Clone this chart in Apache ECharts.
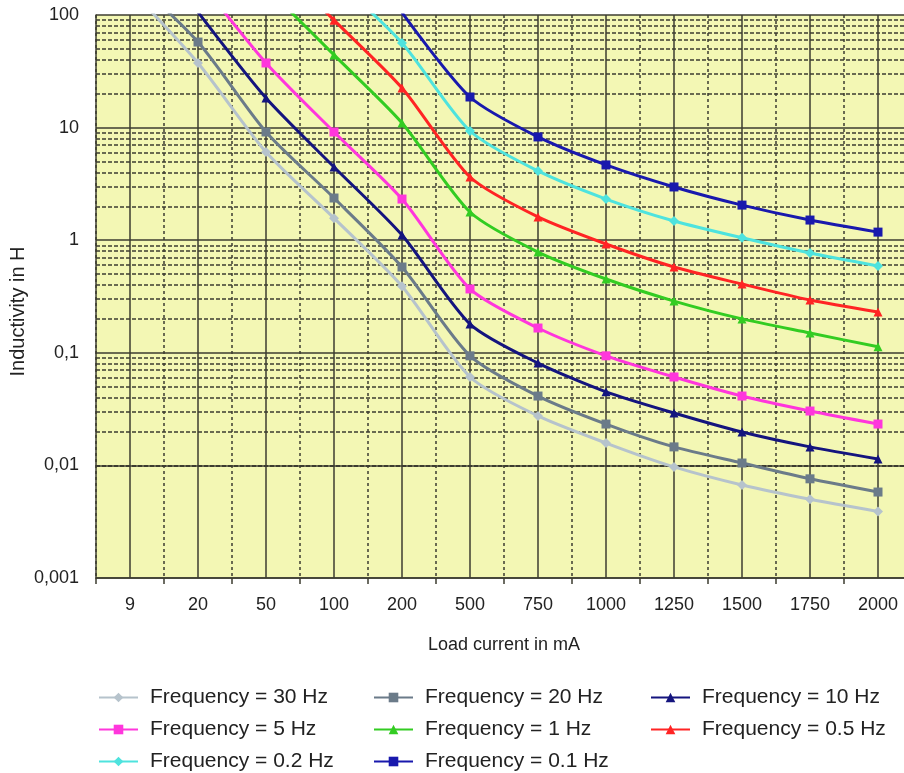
<!DOCTYPE html>
<html>
<head>
<meta charset="utf-8">
<script src="https://cdn.jsdelivr.net/npm/echarts@6/dist/echarts.min.js"></script>
<style>
  html, body { margin: 0; padding: 0; background: #fff; }
  #chart { width: 904px; height: 773px; }
</style>
</head>
<body>
<div id="chart"></div>
<script>
// load current categories (mA)
let categories = ['9', '20', '50', '100', '200', '500', '750', '1000', '1250', '1500', '1750', '2000'];

// inductivity in H (values above 100 only steer the line in from the top)
let f30  = [170, 37.5, 6.07, 1.57, 0.39, 0.061, 0.0275, 0.0158, 0.0097, 0.0067, 0.0050, 0.0039];
let f20  = [220, 57.5, 9.14, 2.37, 0.578, 0.094, 0.0413, 0.0233, 0.0146, 0.0105, 0.0076, 0.0058];
let f10  = [null, 106, 18.3, 4.47, 1.11, 0.18, 0.081, 0.045, 0.0292, 0.0198, 0.0146, 0.0114];
let f5   = [null, 211, 37.5, 9.14, 2.32, 0.369, 0.166, 0.094, 0.061, 0.0413, 0.0304, 0.0233];
let f1   = [null, null, 177, 44.2, 11.0, 1.78, 0.785, 0.452, 0.288, 0.20, 0.15, 0.113];
let f05  = [null, null, 360, 90, 22.5, 3.64, 1.61, 0.925, 0.578, 0.408, 0.294, 0.23];
let f02  = [null, null, null, 213, 56.5, 9.33, 4.12, 2.32, 1.48, 1.05, 0.769, 0.59];
let f01  = [null, null, null, null, 105, 18.7, 8.26, 4.66, 2.97, 2.05, 1.51, 1.18];

let names = ['Frequency = 30 Hz', 'Frequency = 20 Hz', 'Frequency = 10 Hz',
             'Frequency = 5 Hz', 'Frequency = 1 Hz', 'Frequency = 0.5 Hz',
             'Frequency = 0.2 Hz', 'Frequency = 0.1 Hz'];
let values = [f30, f20, f10, f5, f1, f05, f02, f01];
let colors = ['#b6c3cc', '#6b7b89', '#14147e', '#ff36dc', '#33cc22', '#ff2424', '#4ee3de', '#1919ad'];
let symbols = ['diamond', 'rect', 'triangle', 'rect', 'triangle', 'triangle', 'diamond', 'rect'];

// minor gridline values for the log axis (2..9 in every decade)
let minorVals = [];
for (let e = -3; e < 2; e++) {
    for (let m = 2; m <= 9; m++) {
        minorVals.push(Number((m * Math.pow(10, e)).toPrecision(3)));
    }
}

let gridColor = '#3c3c30';
let textColor = '#222';

let chart = echarts.init(document.getElementById('chart'));

let series = [];
for (let i in names) {
    series.push({
        name: names[i],
        type: 'line',
        data: values[i],
        smooth: 0.25,
        symbol: symbols[i],
        symbolSize: symbols[i] === 'diamond' ? 10 : 9,
        lineStyle: { width: 3, color: colors[i] },
        itemStyle: { color: colors[i] },
        z: 5,
        animation: false
    });
}

// gridlines that the axes can't draw themselves
let markData = [];
for (let v of minorVals) {
    markData.push({ yAxis: v, lineStyle: { type: [4, 2], width: 1.5, color: gridColor } });
}
for (let c of categories) {
    markData.push({ xAxis: c, lineStyle: { type: 'solid', width: 1.5, color: gridColor } });
}
series.push({
    type: 'line',
    xAxisIndex: 1,
    yAxisIndex: 1,
    data: categories.map(function () { return null; }),
    silent: true,
    z: 1,
    animation: false,
    markLine: {
        silent: true,
        symbol: 'none',
        label: { show: false },
        animation: false,
        data: markData
    }
});

function legendCol(left, items) {
    return {
        orient: 'vertical',
        left: left,
        top: 687,
        itemGap: 11,
        itemWidth: 39,
        itemHeight: 12,
        padding: 0,
        data: items,
        textStyle: { fontSize: 21, color: textColor, fontFamily: 'Liberation Sans', padding: [0, 0, 0, 7] }
    };
}

let option = {
    textStyle: { fontFamily: 'Liberation Sans' },
    legend: [
        legendCol(98, [names[0], names[3], names[6]]),
        legendCol(373, [names[1], names[4], names[7]]),
        legendCol(650, [names[2], names[5]])
    ],
    grid: [
        { left: 96, top: 15, right: -8, height: 563, show: true, backgroundColor: '#f3f7b4', borderWidth: 0, outerBoundsMode: 'none' },
        { left: 96, top: 15, right: -8, height: 563, outerBoundsMode: 'none' }
    ],
    xAxis: [{
        gridIndex: 0,
        type: 'category',
        data: categories,
        name: 'Load current in mA',
        nameLocation: 'middle',
        nameGap: 58,
        nameTextStyle: { fontSize: 18, color: textColor },
        axisLine: { lineStyle: { color: gridColor, width: 1.5 } },
        axisTick: { alignWithLabel: true, length: 6, lineStyle: { color: gridColor, width: 1.5 } },
        axisLabel: { fontSize: 18, color: textColor, margin: 18 },
        splitLine: { show: false }
    }, {
        gridIndex: 1,
        type: 'category',
        data: categories,
        position: 'bottom',
        axisLine: { show: false },
        axisTick: { show: true, length: 6, lineStyle: { color: gridColor, width: 1.5 } },
        axisLabel: { show: false },
        splitLine: { show: true, lineStyle: { type: [3, 3], width: 1.5, color: gridColor } }
    }],
    yAxis: [{
        gridIndex: 0,
        type: 'log',
        logBase: 10,
        min: 0.001,
        max: 100,
        name: 'Inductivity in H',
        nameLocation: 'middle',
        nameRotate: 90,
        nameGap: 68,
        nameMoveOverlap: false,
        nameTextStyle: { fontSize: 20, color: textColor, padding: [0, 30, 0, 0] },
        axisLine: { show: true, lineStyle: { color: gridColor, width: 1.5 } },
        axisTick: { show: false },
        axisLabel: {
            fontSize: 18,
            color: textColor,
            margin: 17,
            formatter: function (v) {
                return String(Number(v.toPrecision(3))).replace('.', ',');
            }
        },
        splitLine: { show: true, lineStyle: { color: gridColor, width: 1.5 } }
    }, {
        gridIndex: 1,
        type: 'log',
        logBase: 10,
        min: 0.001,
        max: 100,
        axisLine: { show: false },
        axisTick: { show: false },
        axisLabel: { show: false },
        splitLine: { show: false }
    }],
    series: series
};

chart.setOption(option);
</script>
</body>
</html>
